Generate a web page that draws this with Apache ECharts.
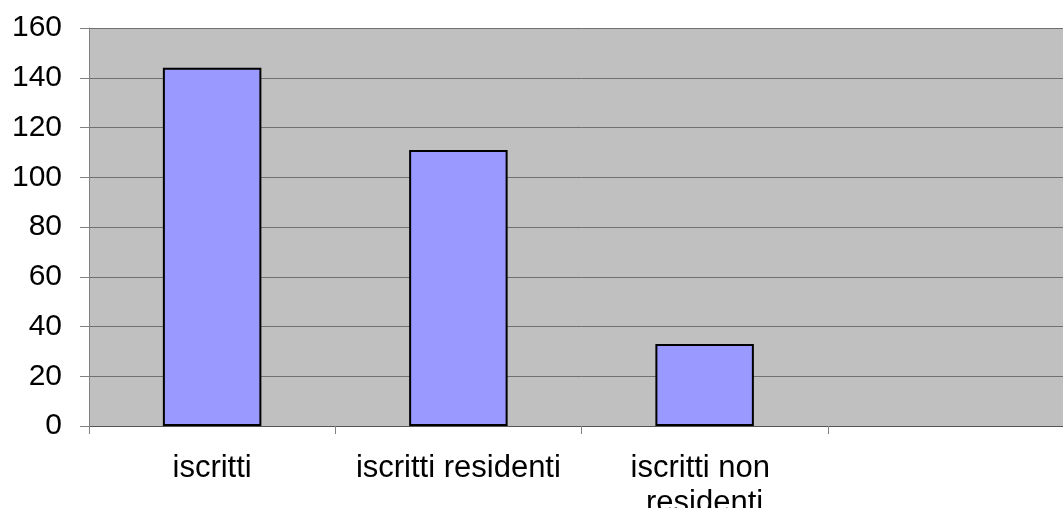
<!DOCTYPE html>
<html>
<head>
<meta charset="utf-8">
<script src="https://cdn.jsdelivr.net/npm/echarts@6/dist/echarts.min.js"></script>
<style>
  html, body { margin: 0; padding: 0; background: #fff; overflow: hidden; }
  #chart { width: 1074px; height: 508px; }
</style>
</head>
<body>
<div id="chart"></div>
<script>
// categorie (l'ultima è vuota, come nell'originale)
var categories = ['iscritti', 'iscritti residenti', 'iscritti non residenti', ''];
var values = [144, 111, 33, null];
var yTicks = [0, 20, 40, 60, 80, 100, 120, 140, 160];

var myChart = echarts.init(document.getElementById('chart'));
myChart.setOption({
  animation: false,
  grid: {
    left: 89,
    top: 28,
    right: 0,
    bottom: 82,
    outerBoundsMode: 'none',
    containLabel: false,
    show: true,
    backgroundColor: '#c0c0c0',
    borderWidth: 0
  },
  xAxis: {
    type: 'category',
    data: categories,
    axisLine: { lineStyle: { color: '#555', width: 1 } },
    axisTick: { show: true, length: 8, lineStyle: { color: '#808080' } },
    axisLabel: {
      color: '#000',
      fontFamily: 'Liberation Sans, Arial',
      fontSize: 31,
      lineHeight: 35,
      margin: 25,
      width: 240,
      overflow: 'break',
      interval: 0
    }
  },
  yAxis: {
    type: 'value',
    min: yTicks[0],
    max: yTicks[yTicks.length - 1],
    interval: 20,
    axisLine: { show: true, lineStyle: { color: '#808080' } },
    axisTick: { show: true, length: 9, lineStyle: { color: '#808080' } },
    axisLabel: {
      color: '#000',
      fontFamily: 'Liberation Sans, Arial',
      fontSize: 30,
      margin: 27
    },
    splitLine: { lineStyle: { color: '#707070', width: 1 } }
  },
  series: [{
    type: 'bar',
    data: values,
    barWidth: '40%',
    itemStyle: {
      color: '#9999ff',
      borderColor: '#000',
      borderWidth: 2
    }
  }]
});
</script>
</body>
</html>
